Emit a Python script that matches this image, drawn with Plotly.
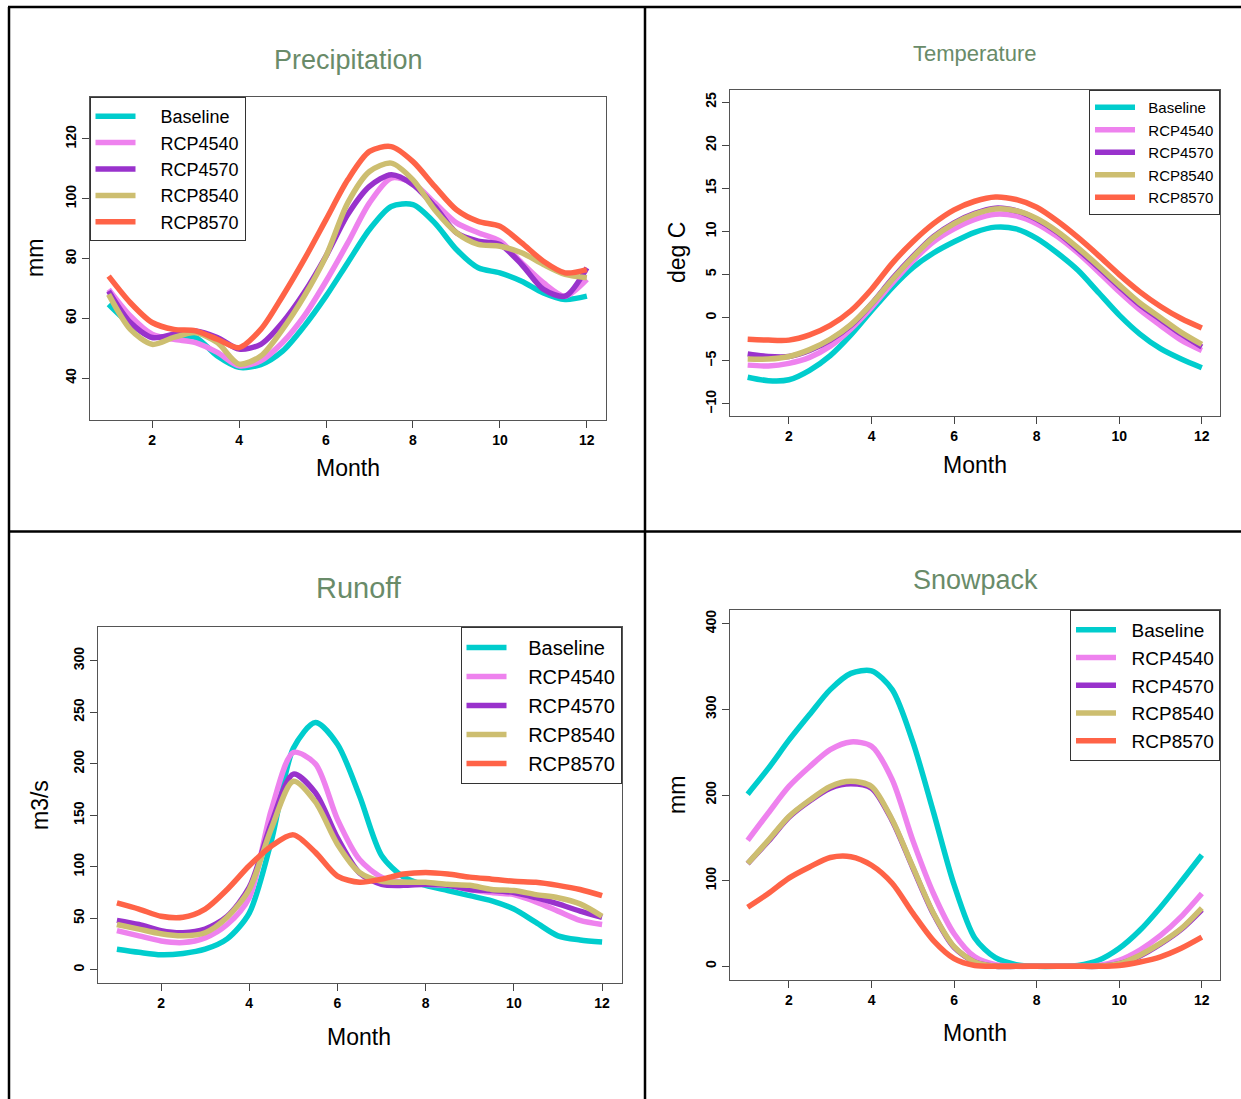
import plotly.graph_objects as go

W, H = 1241, 1099

months = [1, 1.5, 2, 2.5, 3, 3.5, 4, 4.5, 5, 5.5, 6, 6.5, 7, 7.5, 8, 8.5, 9, 9.5, 10, 10.5, 11, 11.5, 12]
series_names = ["Baseline", "RCP4540", "RCP4570", "RCP8540", "RCP8570"]
series_colors = ["#00CDCD", "#EE82EE", "#9932CC", "#CDBE70", "#FF6347"]
month_ticks = [2, 4, 6, 8, 10, 12]

# Precipitation (mm)
precip_baseline = [64.7, 58.0, 54.0, 53.8, 53.6, 47.4, 43.6, 44.5, 49.0, 57.4, 67.4, 78.6, 89.7, 97.4, 98.0, 91.9, 83.0, 76.9, 75.2, 72.4, 68.5, 66.3, 67.4]
precip_rcp4540 = [69.7, 60.8, 54.7, 53.0, 51.9, 48.6, 44.1, 45.8, 51.9, 60.8, 72.4, 85.2, 98.6, 106.9, 105.2, 98.6, 91.9, 88.6, 85.8, 78.6, 71.9, 67.4, 73.0]
precip_rcp4570 = [69.1, 58.6, 53.6, 54.7, 55.8, 53.6, 49.7, 51.3, 58.6, 68.6, 80.8, 94.7, 104.1, 108.0, 104.7, 97.4, 88.6, 85.8, 84.7, 78.0, 69.7, 67.4, 76.9]
precip_rcp8540 = [68.0, 56.3, 51.3, 53.6, 55.2, 51.9, 44.7, 47.4, 56.3, 67.4, 80.8, 98.6, 109.1, 111.9, 106.3, 96.3, 88.6, 84.7, 84.1, 81.9, 78.0, 74.7, 73.6]
precip_rcp8570 = [74.1, 65.2, 58.6, 56.3, 55.8, 53.0, 50.2, 56.3, 67.4, 79.7, 93.0, 106.3, 115.8, 117.4, 112.4, 104.1, 96.3, 92.4, 90.8, 85.2, 79.1, 75.2, 76.3]

# Temperature (deg C)
temp_baseline = [-6.9, -7.3, -7.2, -6.1, -4.4, -2.0, 0.8, 3.5, 5.8, 7.5, 8.8, 9.9, 10.5, 10.3, 9.2, 7.5, 5.5, 2.9, 0.3, -1.9, -3.6, -4.8, -5.8]
temp_rcp4540 = [-5.5, -5.6, -5.3, -4.6, -3.3, -1.3, 1.2, 4.0, 6.6, 8.8, 10.3, 11.4, 12.0, 11.8, 10.9, 9.4, 7.5, 5.3, 3.0, 0.9, -0.9, -2.6, -3.8]
temp_rcp4570 = [-4.2, -4.5, -4.5, -3.8, -2.6, -0.9, 1.6, 4.5, 7.1, 9.4, 11.0, 12.1, 12.7, 12.4, 11.4, 9.9, 7.9, 5.8, 3.6, 1.5, -0.2, -1.9, -3.4]
temp_rcp8540 = [-4.8, -4.8, -4.5, -3.7, -2.5, -0.8, 1.6, 4.4, 7.0, 9.3, 10.9, 12.0, 12.6, 12.4, 11.5, 10.0, 8.1, 6.0, 3.8, 1.7, 0.0, -1.7, -3.1]
temp_rcp8570 = [-2.5, -2.6, -2.6, -2.0, -0.9, 0.8, 3.3, 6.3, 8.8, 10.9, 12.5, 13.5, 14.0, 13.7, 12.8, 11.2, 9.3, 7.2, 5.0, 3.0, 1.3, -0.1, -1.2]

# Runoff (m3/s)
runoff_baseline = [20, 17, 14.6, 15.9, 20, 30, 55, 125, 215, 240, 219, 169, 111, 90, 82, 77, 72, 67, 59, 46, 33, 29, 27]
runoff_rcp4540 = [38, 33, 28, 26.5, 31, 44, 70, 155, 211, 200, 146, 107, 90, 85, 83, 82, 78, 75, 73, 66, 57, 48, 44]
runoff_rcp4570 = [48, 44, 38, 36, 39.5, 52, 80, 142, 190, 172, 128, 94, 83, 82, 83, 82, 78, 77, 75, 70, 64, 57, 51]
runoff_rcp8540 = [44, 39.5, 35, 33, 36, 51, 78, 137, 183, 163, 122, 94.5, 86, 85, 85, 83, 82, 78, 77, 73, 70, 64, 52]
runoff_rcp8570 = [65, 59, 52, 51, 59, 78, 101, 120, 131, 114, 91, 85, 88, 93, 94.5, 93, 90, 88, 86, 85, 82, 78, 72]

# Snowpack (mm)
snow_baseline = [201, 231, 264, 294, 323, 342, 345, 323, 262, 180, 95, 33, 10, 2, 0, 0, 1, 7, 21, 42, 69, 99, 130]
snow_rcp4540 = [147, 179, 210, 233, 253, 262, 257, 218, 147, 85, 38, 11, 2, 0, 0, 0, 0, 1, 7, 19, 36, 58, 85]
snow_rcp4570 = [120, 146, 174, 193, 208, 213, 208, 170, 115, 61, 22, 5, 0, 0, 0, 0, 0, 0, 3, 12, 26, 43, 66]
snow_rcp8540 = [120, 147, 175, 194, 210, 216, 210, 171, 116, 62, 23, 5, 0, 0, 0, 0, 0, 0, 3, 13, 27, 44, 68]
snow_rcp8570 = [69, 85, 103, 116, 127, 128, 118, 97, 62, 30, 9, 1, 0, 0, 0, 0, 0, 0, 1, 5, 11, 21, 34]

panels = [
    dict(title="Precipitation", ylabel="mm", data=[precip_baseline, precip_rcp4540, precip_rcp4570, precip_rcp8540, precip_rcp8570],
         yticks=[40, 60, 80, 100, 120], ylim=[30, 130]),
    dict(title="Temperature", ylabel="deg C", data=[temp_baseline, temp_rcp4540, temp_rcp4570, temp_rcp8540, temp_rcp8570],
         yticks=[-10, -5, 0, 5, 10, 15, 20, 25], ylim=[-10, 25]),
    dict(title="Runoff", ylabel="m3/s", data=[runoff_baseline, runoff_rcp4540, runoff_rcp4570, runoff_rcp8540, runoff_rcp8570],
         yticks=[0, 50, 100, 150, 200, 250, 300], ylim=[0, 320]),
    dict(title="Snowpack", ylabel="mm", data=[snow_baseline, snow_rcp4540, snow_rcp4570, snow_rcp8540, snow_rcp8570],
         yticks=[0, 100, 200, 300, 400], ylim=[0, 400]),
]

# layout (pixel boxes: left, top, right, bottom)
boxes = [(89.5, 97, 606, 420), (729.5, 90, 1220, 416), (97.5, 627, 621.5, 983), (729.5, 610, 1220, 980)]
title_pos = [(348, 60, 27), (975, 54, 22), (359, 588, 29), (975, 580, 27)]
xlab_pos = [(348, 468), (975, 465), (359, 1037), (975, 1033)]
ylab_pos = [(35, 258), (677, 253), (40, 805), (677, 795)]
legend_cfg = [
    dict(x=89.5, y=97, anchor="left", size=18, gap=4),
    dict(x=1220, y=90, anchor="right", size=15, gap=2),
    dict(x=621.5, y=627, anchor="right", size=20, gap=3),
    dict(x=1220, y=610, anchor="right", size=19, gap=2),
]

def px(x):
    return x / W

def py(y):
    return 1 - y / H

fig = go.Figure()
layout = dict(width=W, height=H, margin=dict(l=0, r=0, t=0, b=0),
              paper_bgcolor="white", plot_bgcolor="white",
              font=dict(family="Liberation Sans, Arial, sans-serif", color="black"),
              annotations=[], shapes=[])

for i, p in enumerate(panels):
    k = "" if i == 0 else str(i + 1)
    lg = "legend" + k
    lc = legend_cfg[i]
    gap = "\u00a0" * lc["gap"]
    for name, color, vals in zip(series_names, series_colors, p["data"]):
        fig.add_trace(go.Scatter(x=months, y=vals, mode="lines", name=gap + name,
                                 line=dict(color=color, width=5.5, shape="spline", smoothing=0.8),
                                 xaxis="x" + k, yaxis="y" + k, legend=lg, showlegend=True))
    l, t, r, b = boxes[i]
    lo, hi = p["ylim"]
    ext = (hi - lo) * 0.04
    layout["xaxis" + k] = dict(domain=[px(l), px(r)], anchor="y" + k, range=[1 - 0.44, 12 + 0.44],
                               tickvals=month_ticks, ticks="outside", ticklen=7, tickcolor="#444",
                               showgrid=False, zeroline=False, showline=True, mirror=True,
                               linecolor="#555", linewidth=1,
                               tickfont=dict(size=14, family="Liberation Sans, Arial", weight="bold"))
    layout["yaxis" + k] = dict(domain=[py(b), py(t)], anchor="x" + k, range=[lo - ext, hi + ext],
                               tickvals=p["yticks"], ticks="outside", ticklen=7, tickcolor="#444",
                               tickangle=-90, showgrid=False, zeroline=False, showline=True, mirror=True,
                               linecolor="#555", linewidth=1,
                               tickfont=dict(size=14, family="Liberation Sans, Arial", weight="bold"))
    layout[lg] = dict(x=px(lc["x"]), y=py(lc["y"]), xanchor=lc["anchor"], yanchor="top",
                      bgcolor="white", bordercolor="#333", borderwidth=1,
                      font=dict(size=lc["size"], family="Liberation Sans, Arial"),
                      itemwidth=40, tracegroupgap=0)
    tx, ty, ts = title_pos[i]
    layout["annotations"].append(dict(text=p["title"], x=px(tx), y=py(ty), xref="paper", yref="paper",
                                      showarrow=False, xanchor="center", yanchor="middle",
                                      font=dict(size=ts, color="#698B69")))
    mx, my = xlab_pos[i]
    layout["annotations"].append(dict(text="Month", x=px(mx), y=py(my), xref="paper", yref="paper",
                                      showarrow=False, xanchor="center", yanchor="middle",
                                      font=dict(size=23)))
    yx, yy = ylab_pos[i]
    layout["annotations"].append(dict(text=p["ylabel"], x=px(yx), y=py(yy), xref="paper", yref="paper",
                                      showarrow=False, xanchor="center", yanchor="middle", textangle=-90,
                                      font=dict(size=23)))

# panel separator lines
for (x0, y0, x1, y1) in [(8, 7, W, 7), (9, 7, 9, H), (645, 7, 645, H), (8, 531.5, W, 531.5)]:
    layout["shapes"].append(dict(type="line", xref="paper", yref="paper",
                                 x0=px(x0), y0=py(y0), x1=px(x1), y1=py(y1),
                                 line=dict(color="black", width=2.5)))

fig.update_layout(**layout)
fig.write_html("out.html", config={"displayModeBar": False},
               post_script="document.body.style.margin='0px';")
